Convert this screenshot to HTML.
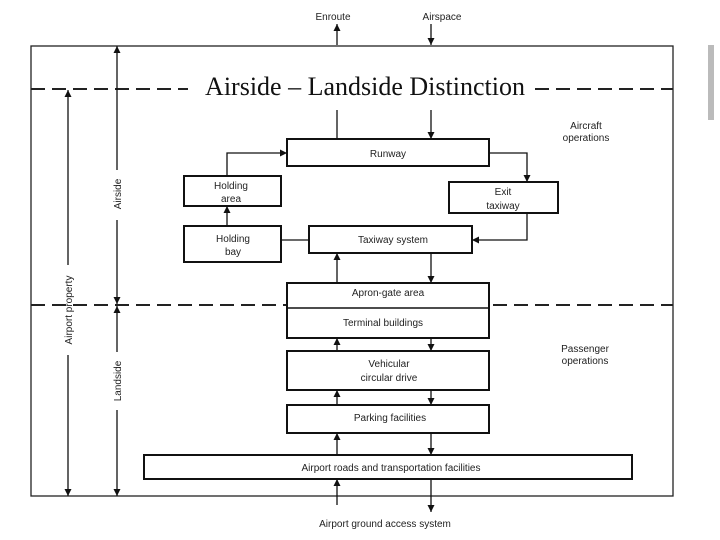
<!DOCTYPE html>
<html><head><style>
body{margin:0;background:#fff}
svg{display:block}
text{font-family:"Liberation Sans",sans-serif;font-size:10px;fill:#222}
</style></head><body>
<svg width="720" height="540" viewBox="0 0 720 540">
<defs>
<marker id="a" viewBox="0 0 10 10" refX="10" refY="5" markerWidth="7" markerHeight="7" orient="auto" markerUnits="userSpaceOnUse"><path d="M0,0L10,5L0,10z" fill="#111"/></marker>
</defs>
<rect x="708" y="45" width="6" height="75" fill="#bbb"/>
<g stroke="#222" stroke-width="1.3" fill="none">
<rect x="31" y="46" width="642" height="450"/>
<line x1="31" y1="89" x2="673" y2="89" stroke-dasharray="14,7" stroke-width="2"/>
<line x1="31" y1="305" x2="673" y2="305" stroke-dasharray="14,7" stroke-width="2"/>
</g>
<rect x="188" y="70" width="346" height="32" fill="#fff"/>
<text x="365" y="95" text-anchor="middle" style="font-family:'Liberation Serif',serif;font-size:26px;fill:#111">Airside – Landside Distinction</text>
<g stroke="#111" stroke-width="2" fill="#fff">
<rect x="287" y="139" width="202" height="27"/>
<rect x="184" y="176" width="97" height="30"/>
<rect x="449" y="182" width="109" height="31"/>
<rect x="184" y="226" width="97" height="36"/>
<rect x="309" y="226" width="163" height="27"/>
<rect x="287" y="283" width="202" height="55"/>
<rect x="287" y="351" width="202" height="39"/>
<rect x="287" y="405" width="202" height="28"/>
<rect x="144" y="455" width="488" height="24"/>
</g>
<line x1="287" y1="308" x2="489" y2="308" stroke="#111" stroke-width="1.5"/>
<g stroke="#111" stroke-width="1.3" fill="none" marker-end="url(#a)">
<line x1="337" y1="45" x2="337" y2="24"/>
<line x1="431" y1="24" x2="431" y2="45"/>
<line x1="431" y1="110" x2="431" y2="139"/>
<polyline points="489,153 527,153 527,182"/>
<polyline points="527,213 527,240 472,240"/>
<polyline points="227,176 227,153 287,153"/>
<line x1="227" y1="226" x2="227" y2="206"/>
<line x1="337" y1="283" x2="337" y2="253"/>
<line x1="431" y1="253" x2="431" y2="283"/>
<line x1="337" y1="351" x2="337" y2="338"/>
<line x1="431" y1="338" x2="431" y2="351"/>
<line x1="337" y1="405" x2="337" y2="390"/>
<line x1="431" y1="390" x2="431" y2="405"/>
<line x1="337" y1="455" x2="337" y2="433"/>
<line x1="431" y1="433" x2="431" y2="455"/>
<line x1="337" y1="505" x2="337" y2="479"/>
<line x1="431" y1="479" x2="431" y2="512"/>
<line x1="68" y1="265" x2="68" y2="90"/>
<line x1="68" y1="355" x2="68" y2="496"/>
<line x1="117" y1="170" x2="117" y2="46"/>
<line x1="117" y1="220" x2="117" y2="304"/>
<line x1="117" y1="352" x2="117" y2="306"/>
<line x1="117" y1="410" x2="117" y2="496"/>
</g>
<g stroke="#111" stroke-width="1.3">
<line x1="337" y1="110" x2="337" y2="139"/>
<line x1="281" y1="240" x2="309" y2="240"/>
</g>
<g text-anchor="middle">
<text x="333" y="20">Enroute</text>
<text x="442" y="20">Airspace</text>
<text x="586" y="129">Aircraft</text>
<text x="586" y="141">operations</text>
<text x="388" y="157">Runway</text>
<text x="231" y="189">Holding</text>
<text x="231" y="202">area</text>
<text x="503" y="195">Exit</text>
<text x="503" y="209">taxiway</text>
<text x="233" y="242">Holding</text>
<text x="233" y="255">bay</text>
<text x="393" y="243">Taxiway system</text>
<text x="388" y="296">Apron-gate area</text>
<text x="383" y="326">Terminal buildings</text>
<text x="585" y="352">Passenger</text>
<text x="585" y="364">operations</text>
<text x="389" y="367">Vehicular</text>
<text x="389" y="381">circular drive</text>
<text x="390" y="421">Parking facilities</text>
<text x="391" y="471">Airport roads and transportation facilities</text>
<text x="385" y="527">Airport ground access system</text>
<text transform="translate(72,310) rotate(-90)">Airport property</text>
<text transform="translate(121,194) rotate(-90)">Airside</text>
<text transform="translate(121,381) rotate(-90)">Landside</text>
</g>
</svg>
</body></html>
